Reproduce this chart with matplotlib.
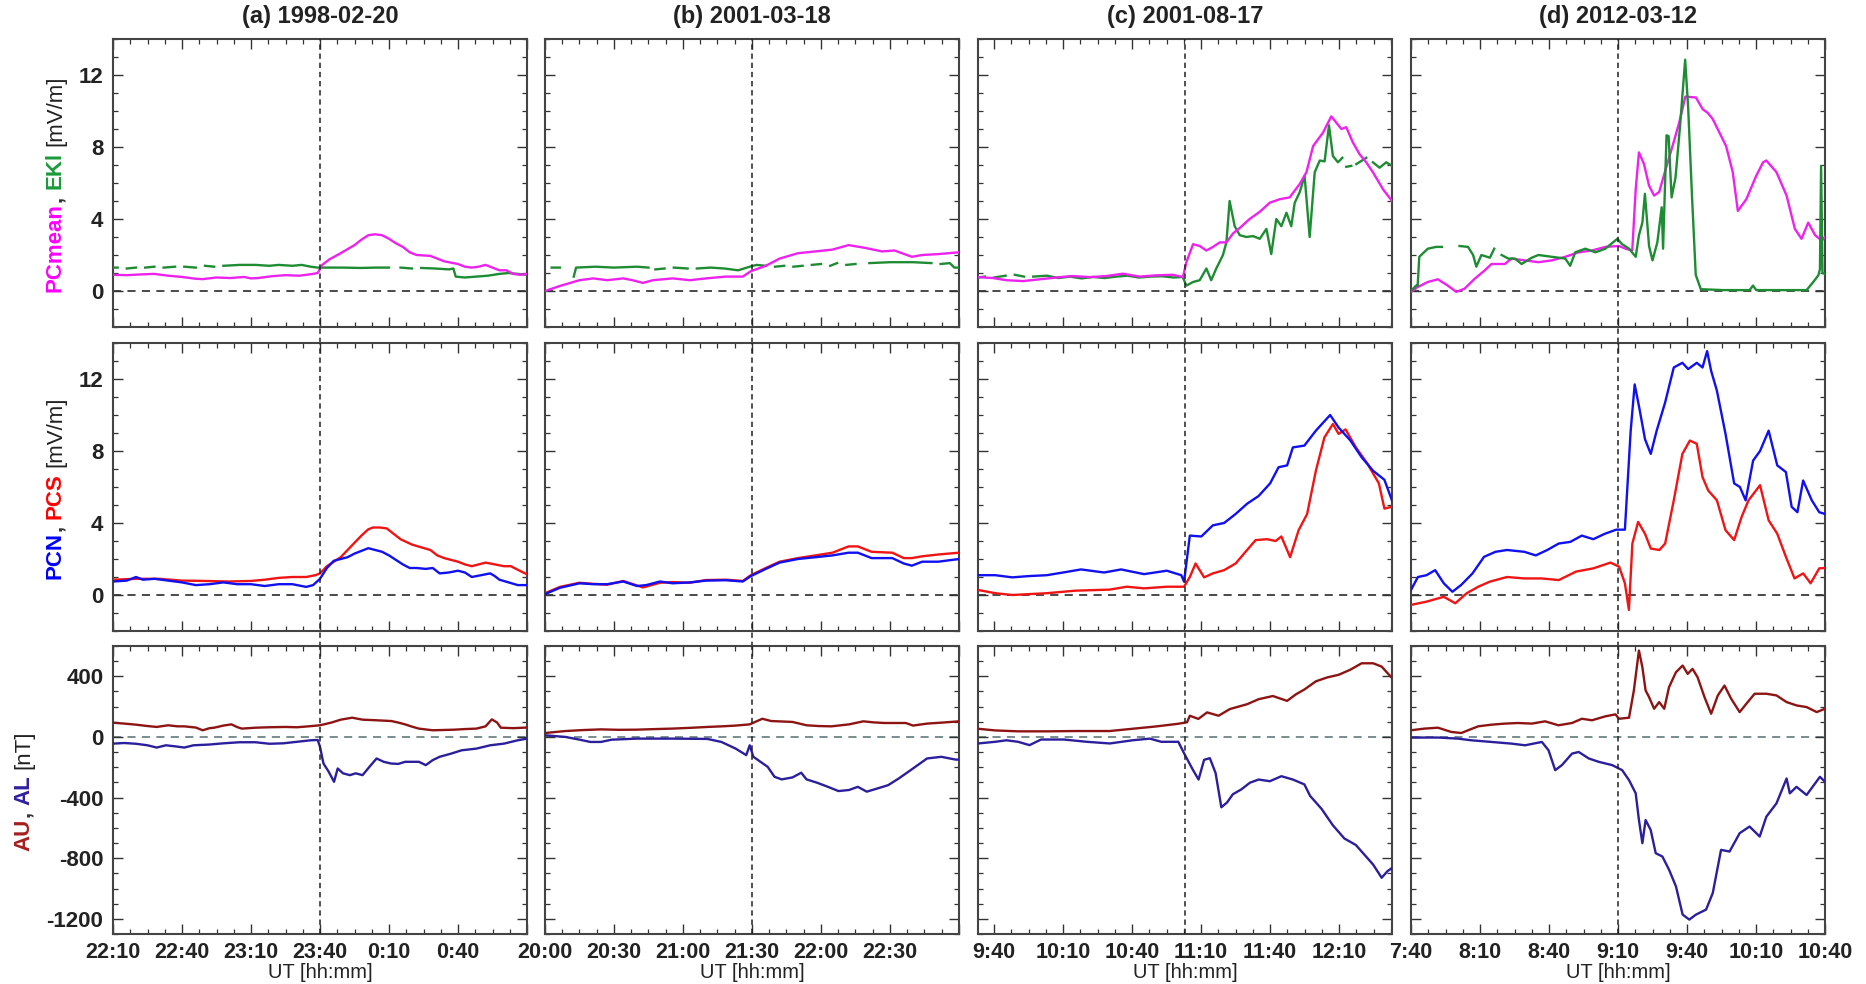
import numpy as np
import matplotlib
matplotlib.use("Agg")
import matplotlib.pyplot as plt
from matplotlib.ticker import FixedLocator, FixedFormatter, NullFormatter

plt.rcParams['font.family'] = ['Liberation Sans', 'DejaVu Sans']
plt.rcParams['font.weight'] = 'bold'

nan = np.nan

# ---------------- data (time in minutes from window start, value) ----------------
titles = ['(a) 1998-02-20', '(b) 2001-03-18', '(c) 2001-08-17', '(d) 2012-03-12']
window_start = [1330, 1200, 573, 460]          # minutes of day (22:10, 20:00, 9:33, 7:40)
onset_time = [1420, 1290, 663, 550]            # 23:40, 21:30, 11:03, 9:10
first_major = [1330, 1200, 580, 460]
xtick_labels = [
    ['22:10', '22:40', '23:10', '23:40', '0:10', '0:40', ''],
    ['20:00', '20:30', '21:00', '21:30', '22:00', '22:30', ''],
    ['9:40', '10:10', '10:40', '11:10', '11:40', '12:10'],
    ['7:40', '8:10', '8:40', '9:10', '9:40', '10:10', '10:40'],
]

a_pcm = [(0,.9),(6,.88),(12,.92),(18,.95),(24,.85),(30,.78),(36,.68),(39,.66),(45,.75),(51,.72),(57,.78),(60,.7),(63,.72),(69,.82),(75,.88),(81,.85),(87,.95),(89,1.0),(91,1.45),(94,1.75),(99,2.1),(105,2.55),(108,2.85),(111,3.1),(114,3.15),(117,3.1),(120,2.9),(123,2.65),(126,2.45),(129,2.15),(132,2.0),(138,1.95),(141,1.8),(144,1.65),(150,1.5),(153,1.35),(156,1.3),(159,1.35),(162,1.45),(165,1.3),(168,1.15),(171,1.15),(174,.95),(177,.9),(180,.95)]
a_ekl = [(0,1.3),(2,1.3),(4,nan),(6,1.25),(10,1.3),(12,nan),(14,1.3),(18,1.35),(20,nan),(22,1.3),(27,1.35),(29,nan),(31,1.35),(36,1.3),(38,nan),(40,1.4),(44,1.35),(46,nan),(48,1.4),(55,1.45),(62,1.45),(68,1.4),(72,1.45),(78,1.4),(82,1.45),(86,1.35),(89,1.3),(92,1.3),(100,1.3),(108,1.28),(114,1.3),(120,1.3),(123,nan),(125,1.3),(130,1.25),(132,nan),(134,1.28),(140,1.25),(146,1.2),(148,1.25),(149,.8),(153,.75),(158,.8),(163,.85),(168,.95),(172,1.0),(176,.95),(180,.9)]
a_pcs = [(0,.85),(10,.9),(20,.9),(30,.8),(40,.78),(50,.75),(60,.78),(66,.85),(72,.95),(78,1.0),(84,1.0),(88,1.1),(90,1.2),(93,1.6),(96,1.85),(99,2.1),(102,2.5),(105,2.9),(108,3.3),(111,3.65),(113,3.75),(116,3.75),(119,3.7),(122,3.4),(125,3.1),(130,2.8),(134,2.65),(138,2.5),(141,2.2),(144,2.05),(147,1.95),(150,1.85),(153,1.7),(156,1.6),(159,1.7),(162,1.8),(166,1.7),(170,1.6),(173,1.6),(176,1.4),(180,1.15)]
a_pcn = [(0,.75),(6,.8),(10,1.0),(13,.85),(18,.9),(24,.8),(30,.7),(36,.55),(42,.6),(48,.7),(54,.6),(60,.6),(66,.5),(69,.55),(72,.6),(78,.6),(84,.45),(87,.55),(90,.9),(93,1.5),(96,1.9),(99,2.0),(102,2.1),(105,2.3),(108,2.45),(111,2.6),(114,2.5),(117,2.4),(120,2.2),(123,1.95),(126,1.7),(129,1.5),(132,1.5),(136,1.45),(139,1.5),(142,1.2),(146,1.25),(150,1.35),(153,1.25),(156,1.0),(160,1.1),(164,1.2),(166,1.05),(168,.85),(172,.7),(176,.55),(180,.55)]
a_au = [(0,94),(5,88),(10,81),(15,72),(19,66),(24,77),(28,70),(31,70),(36,62),(39,44),(42,58),(44,61),(48,75),(51.5,83),(54,65),(56,55),(62,61),(68,64),(75,66),(80,64),(85,70),(90,77),(95,95),(99,114),(104,127),(108.5,114),(114.6,110),(121,105),(124,95),(127,83),(130,68),(133,55),(139,44),(144,46),(148.5,48),(153,52),(158,55),(162,70),(164.7,116),(167,95),(168.6,61),(174,58),(180,62)]
a_al = [(0,-44),(5,-40),(10,-45),(15,-55),(19,-70),(23,-55),(27,-62),(31,-70),(35,-55),(42,-50),(48,-42),(55,-35),(62,-35),(68,-45),(74,-42),(80,-32),(86,-22),(89,-20),(90,-65),(91.5,-175),(93.8,-230),(96.1,-296),(97.7,-208),(100,-240),(103,-252),(105.5,-240),(108.5,-252),(111.5,-197),(114.6,-142),(117.7,-164),(120.8,-175),(124,-178),(127,-164),(133,-164),(136,-186),(139,-153),(142,-131),(147,-110),(151.6,-88),(158,-77),(164,-55),(170,-44),(176,-22),(180,-11)]

b_pcm = [(0,0.0),(6.5,.28),(15,.6),(21,.7),(27,.6),(34,.7),(38,.6),(42.6,.45),(47,.6),(55.5,.7),(63,.6),(70,.7),(78.6,.8),(86,.8),(89.5,1.1),(96,1.4),(102,1.8),(110,2.1),(117.6,2.2),(125,2.3),(132,2.55),(139,2.4),(146.5,2.2),(152,2.25),(159.5,1.9),(164,2.0),(171,2.05),(180,2.15)]
b_ekl = [(2.9,1.3),(6.5,1.3),(8,nan),(12.5,.8),(13.5,1.3),(22,1.35),(30,1.3),(40,1.35),(45,1.3),(47,nan),(48,1.2),(52,1.25),(54,nan),(56,1.3),(62,1.25),(64,nan),(66,1.25),(72,1.3),(78,1.25),(84,1.15),(89,1.35),(92,1.45),(96,1.4),(98,nan),(100,1.35),(104,1.4),(106,nan),(108,1.35),(112,1.4),(114,nan),(116,1.45),(120,1.5),(122,nan),(124,1.4),(127,1.55),(129,nan),(131,1.45),(135,1.5),(137,nan),(141,1.55),(150,1.6),(160,1.6),(168,1.55),(170,nan),(172,1.5),(176,1.55),(178,1.3),(180,1.3)]
b_pcs = [(0,.1),(6.5,.45),(15,.68),(21,.62),(27,.57),(34,.78),(42.6,.42),(50,.68),(55.5,.72),(63,.68),(70,.83),(78.6,.85),(86,.78),(89.5,1.1),(96,1.5),(102,1.85),(110,2.05),(117.6,2.2),(125,2.35),(132,2.7),(136,2.7),(142,2.4),(151,2.35),(156,2.05),(159.5,2.05),(164,2.15),(171,2.25),(180,2.35)]
b_pcn = [(0,.05),(6.5,.4),(15,.65),(21,.6),(27,.6),(34,.75),(40,.5),(44,.55),(50,.75),(55.5,.65),(63,.7),(70,.8),(78.6,.82),(86,.75),(89.5,1.05),(96,1.45),(102,1.8),(110,2.0),(117.6,2.1),(125,2.2),(132,2.35),(136,2.35),(142,2.05),(151,2.05),(156,1.75),(159.5,1.63),(164,1.85),(171,1.85),(180,2.0)]
b_au = [(0,26),(8.9,39),(16,45),(24.3,50),(32,47),(39.8,48),(48,52),(55.2,55),(63,60),(70.6,66),(77,70),(82.9,75),(89,83),(94.5,120),(98.3,105),(103,102),(107.6,99),(113.7,77),(119,72),(124.5,70),(132.2,83),(138.4,103),(143,96),(147.6,92),(156.9,92),(160,75),(166.1,88),(173,95),(180,103)]
b_al = [(0,11),(8.9,0),(15.1,-18),(19.7,-33),(24.3,-33),(29,-18),(39.8,-11),(55.2,-11),(70.6,-13),(76.7,-33),(82.9,-77),(87.5,-120),(89,-55),(90.6,-131),(93.7,-164),(96.8,-197),(99.8,-263),(102.9,-280),(107.6,-267),(111.4,-236),(113.7,-280),(118.3,-302),(123,-329),(127.6,-357),(132.2,-350),(136,-329),(139.9,-361),(144.5,-340),(149.2,-318),(153.8,-274),(160,-208),(166.1,-142),(172.3,-131),(178.4,-149),(180,-150)]

c_pcm = [(0,.77),(6.5,.72),(12.3,.6),(19.6,.55),(26.8,.65),(35.5,.77),(41.3,.83),(48.6,.77),(55.8,.83),(63,.96),(70.3,.8),(77.5,.87),(84.8,.9),(89.1,.77),(90.6,1.6),(93.5,2.6),(96.4,2.5),(99.3,2.25),(102.2,2.45),(105.1,2.7),(108,2.7),(110.9,3.2),(113.8,3.5),(118.1,4.0),(122.5,4.4),(126.8,4.9),(131.2,5.1),(135.5,5.2),(139.9,5.95),(142.8,6.6),(145.7,8.05),(150,8.8),(153.6,9.7),(155.8,9.35),(158,9.0),(160.1,9.1),(163,8.25),(165.9,7.6),(168.8,7.15),(171.7,6.6),(176.1,5.65),(180,5.0)]
c_ekl = [(0,.75),(3,.8),(5,nan),(7,.75),(12,.85),(14,nan),(16,.9),(20,.8),(22,nan),(24,.8),(30,.85),(35,.72),(40,.8),(45,.7),(50,.78),(55,.72),(60,.8),(65,.85),(70,.75),(75,.8),(80,.82),(85,.75),(89,.78),(90.6,.3),(93.5,.5),(96.4,.6),(99.3,1.25),(101.4,.6),(103.6,1.25),(106.5,2.0),(108,2.7),(109.4,5.0),(111.6,3.6),(113.8,3.1),(116.7,3.0),(119.6,3.05),(122.5,2.9),(125.4,3.45),(127.5,2.05),(129.7,4.0),(131.9,3.6),(134.1,4.35),(136.2,3.6),(137.7,4.9),(139.9,5.5),(142,6.4),(144.2,3.0),(146.4,6.6),(148.6,7.25),(150.7,7.2),(152.6,9.2),(154.3,7.5),(156.5,7.15),(158.4,7.4),(159.5,nan),(160.1,6.9),(162.3,6.95),(163.5,nan),(164.5,7.05),(168.8,7.4),(170,nan),(171.7,7.15),(174.6,6.85),(177.5,7.15),(180,6.95)]
c_pcn = [(0,1.1),(7.5,1.1),(14.9,.98),(22,1.05),(29.9,1.1),(37,1.25),(44.8,1.42),(54.8,1.25),(62.2,1.42),(72.2,1.16),(82.1,1.35),(88.4,1.1),(89.6,.74),(92.1,3.3),(97.1,3.25),(102.1,3.87),(107,4.0),(112,4.5),(117,5.07),(122,5.5),(127,6.2),(130.7,7.1),(134.4,7.2),(136.9,8.2),(141.9,8.3),(146.9,9.13),(153.1,10.0),(156.8,9.3),(161.8,8.6),(166.8,7.65),(171.8,6.9),(176.7,6.4),(180,5.25)]
c_pcs = [(0,.28),(7.5,.1),(14.9,0.0),(29.9,.1),(42.3,.24),(57.3,.3),(64.7,.46),(72.2,.37),(82.1,.46),(89.6,.46),(92.1,1.0),(94.6,1.75),(98.3,.98),(102.1,1.2),(107,1.38),(112,1.75),(117,2.5),(120.7,3.05),(125.7,3.1),(129.4,3.0),(131.9,3.25),(135.7,2.1),(139.4,3.6),(143.1,4.5),(146.9,6.9),(150.6,8.75),(154.3,9.5),(156.8,8.95),(159.8,9.2),(164.3,8.2),(169.3,7.3),(174.3,6.2),(176.7,4.8),(180,4.9)]
c_au = [(0,54),(7.5,43),(17.4,37),(29.9,37),(42.3,39),(57.3,39),(67.2,54),(77.2,69),(87.1,87),(90.9,97),(92.1,140),(95.8,119),(99.6,162),(104.6,140),(109.5,184),(117,216),(122,249),(128.2,270),(134.4,238),(138.2,281),(141.9,313),(146.9,367),(151.9,393),(156.8,410),(161.8,443),(166.8,486),(171.8,486),(175.5,464),(180,389)]
c_al = [(0,-43),(7.5,-32),(12.4,-22),(17.4,-32),(22.4,-54),(27.4,-17),(37.3,-17),(47.3,-32),(57.3,-43),(67.2,-22),(74.7,-11),(79.7,-32),(87.1,-32),(89.6,-108),(93.4,-216),(95.9,-281),(98.3,-151),(100.8,-140),(103.3,-238),(105.8,-464),(108.3,-432),(110.8,-378),(114.5,-346),(118.2,-302),(122,-281),(126.9,-292),(131.9,-259),(136.9,-281),(141.9,-313),(144.4,-389),(149.4,-475),(154.3,-583),(159.3,-670),(164.3,-713),(169.3,-799),(171.8,-842),(175.5,-929),(178,-886),(180,-864)]

d_pcm = [(0,-.05),(2.9,.22),(7.3,.5),(11.7,.65),(16,.3),(19.7,-.05),(23.3,.13),(27.7,.68),(32.1,1.15),(35,1.5),(40.8,1.5),(43.7,1.8),(49.6,1.7),(55.4,1.6),(61.2,1.7),(67.1,1.9),(72.9,2.15),(78.7,2.25),(84.5,2.45),(90.4,2.5),(93.3,2.35),(96.2,2.25),(97.7,5.65),(99.1,7.7),(101.3,7.05),(103.5,5.85),(105.7,5.3),(107.9,5.5),(110.8,6.8),(113.7,8.05),(116.6,9.35),(119.3,10.8),(123.9,10.75),(126.8,10.1),(129,9.9),(131.2,9.55),(134.1,8.8),(137,8.05),(139.9,6.6),(142.1,4.45),(145.8,5.1),(150.1,6.4),(153.1,7.15),(154.5,7.25),(158.9,6.6),(163.3,5.3),(166.9,3.45),(169.8,2.9),(172.7,3.8),(175.7,3.1),(178.6,2.8),(180,3.0)]
d_ekl = [(0,0.0),(2.2,.3),(2.9,.3),(3.6,1.9),(7.3,2.35),(10.9,2.45),(13.4,2.45),(14.5,nan),(21.1,2.5),(24.8,2.45),(27,2.0),(28.4,1.35),(30.6,2.0),(34.3,1.85),(36.2,2.35),(37.5,nan),(39.4,2.0),(42.3,1.8),(45.2,1.8),(48.1,1.5),(52.5,1.85),(55.4,2.0),(61.2,1.9),(67.1,1.8),(69.2,1.4),(71.4,2.15),(75.8,2.35),(80.2,2.15),(84.5,2.35),(89.7,2.9),(91.8,2.6),(94.8,2.35),(97.7,1.9),(99.1,3.1),(100.6,3.8),(101.7,5.4),(103.5,2.5),(105,1.7),(107.1,2.7),(109,4.65),(109.6,2.35),(111.1,8.65),(112,8.6),(113.3,5.2),(115,6.3),(117,9.2),(119.2,12.85),(120.5,10.2),(122.2,5.2),(123.8,.9),(126,.1),(135.6,.05),(147.2,.05),(148.7,.3),(150.1,.05),(164.7,.05),(172,.05),(174.9,.5),(177.1,.87),(177.8,1.2),(178.3,6.95),(178.9,1.0),(180,.95)]
d_pcn = [(0,.28),(3,1.0),(6.75,1.1),(10.5,1.38),(14.25,.65),(18,.18),(21.75,.55),(26.75,1.2),(31.75,2.12),(36.75,2.4),(41.75,2.5),(49.25,2.4),(54.25,2.2),(59.25,2.5),(64.25,2.86),(69.25,2.95),(74.25,3.3),(79.25,3.1),(84.25,3.4),(89.25,3.63),(93,3.63),(95.5,9.1),(97.25,11.7),(99.25,10.4),(101.75,8.65),(104.25,7.84),(106.75,9.1),(110.5,10.7),(114.25,12.64),(118,12.9),(120.5,12.55),(124.25,12.9),(126.75,12.64),(128.75,13.55),(130.5,12.45),(133,11.35),(136.75,8.95),(140.5,6.2),(143,6.0),(145.5,5.26),(148.75,7.47),(151.75,8.0),(155.5,9.13),(159.25,7.2),(163,6.83),(165.5,4.9),(168,4.6),(170.5,6.36),(174.25,5.26),(177.5,4.6),(180,4.5)]
d_pcs = [(0,-.55),(6.75,-.37),(14.25,-.1),(19.25,-.46),(24.25,.1),(29.25,.46),(34.25,.74),(41.75,1.0),(49.25,.92),(56.75,.92),(64.25,.83),(71.75,1.3),(79.25,1.48),(86.75,1.8),(90.5,1.57),(93,.65),(94.75,-.83),(96.25,2.86),(98.75,4.06),(101.75,3.4),(104.25,2.58),(108,2.5),(110.5,2.86),(114.25,5.26),(118,7.84),(121.25,8.58),(124.25,8.4),(126.75,6.55),(129.25,5.8),(133,5.26),(136.75,3.6),(140.5,3.05),(143.75,4.34),(146.75,5.26),(151.75,6.1),(155.5,4.15),(159.25,3.4),(163,2.12),(166.75,.92),(170.5,1.2),(173.75,.65),(177.5,1.48),(180,1.5)]
d_au = [(0,44),(5.8,55),(11.7,61),(17.5,33),(21.9,26),(24.8,44),(29.2,70),(35,81),(40.8,88),(46.6,92),(52.5,88),(58.3,103),(64.1,77),(70,92),(74.3,120),(78.7,110),(84.5,136),(88.9,149),(90.4,120),(94.8,127),(96.9,307),(99.1,570),(100.6,460),(102,307),(103.5,263),(105.7,186),(107.9,230),(110.1,186),(112.2,329),(115.2,427),(118.1,471),(120.3,416),(122.4,449),(124.6,394),(127.6,263),(130.5,153),(133.4,274),(136.3,339),(139.2,252),(142.9,164),(145.8,219),(149.4,285),(154.5,285),(158.9,274),(163.3,230),(167.6,208),(172,197),(176.4,164),(180,186)]
d_al = [(0,-4),(11.7,-4),(20.4,-11),(26.2,-22),(35,-33),(43.7,-44),(49.6,-55),(56.9,-33),(59.8,-88),(62.7,-219),(65.6,-186),(70,-110),(72.9,-99),(77.3,-142),(81.6,-164),(87.5,-186),(91.8,-219),(94.8,-285),(97.7,-372),(99.1,-548),(100.6,-701),(102,-548),(104.2,-613),(106.4,-767),(109.3,-789),(112.2,-876),(115.2,-986),(118.1,-1172),(121,-1205),(123.9,-1172),(128.3,-1139),(131.2,-1030),(134.8,-745),(138.5,-756),(142.9,-635),(147.2,-591),(151.6,-657),(154.5,-526),(158.9,-438),(163.3,-274),(164.7,-372),(167.6,-329),(172,-383),(177.8,-263),(180,-296)]

# ---------------- styles ----------------
C_PCM = '#ee22ee'
C_EKL = '#1e8c32'
C_PCN = '#1010f0'
C_PCS = '#f01414'
C_AU = '#8e1414'
C_AL = '#2c1f9c'

panel_series = {
    0: [[(a_ekl, C_EKL), (a_pcm, C_PCM)], [(a_pcs, C_PCS), (a_pcn, C_PCN)], [(a_au, C_AU), (a_al, C_AL)]],
    1: [[(b_ekl, C_EKL), (b_pcm, C_PCM)], [(b_pcs, C_PCS), (b_pcn, C_PCN)], [(b_au, C_AU), (b_al, C_AL)]],
    2: [[(c_ekl, C_EKL), (c_pcm, C_PCM)], [(c_pcs, C_PCS), (c_pcn, C_PCN)], [(c_au, C_AU), (c_al, C_AL)]],
    3: [[(d_pcm, C_PCM), (d_ekl, C_EKL)], [(d_pcs, C_PCS), (d_pcn, C_PCN)], [(d_au, C_AU), (d_al, C_AL)]],
}

W, H = 1866, 984
fig = plt.figure(figsize=(W / 100, H / 100), dpi=100)
col_left = [113, 545, 978, 1411]
col_w = 414
row_top = [39, 343, 646]
row_h = 288

ylims = [(-2, 14), (-2, 14), (-1300, 600)]
ymaj = [[0, 4, 8, 12], [0, 4, 8, 12], [-1200, -800, -400, 0, 400]]
ymin_step = [1, 1, 100]

for ci in range(4):
    ws = window_start[ci]
    we = ws + 180
    maj = [first_major[ci] + 30 * k for k in range(len(xtick_labels[ci]))]
    minors = [m for m in np.arange(first_major[ci] - 30, we + 0.01, 7.5) if ws - 0.01 <= m <= we + 0.01]
    for ri in range(3):
        ax = fig.add_axes([col_left[ci] / W, 1 - (row_top[ri] + row_h) / H, col_w / W, row_h / H])
        ax.set_xlim(ws, we)
        ax.set_ylim(*ylims[ri])
        zc = '#3c3c3c' if ri < 2 else '#708585'
        ax.axhline(0, color=zc, ls=(0, (4.5, 3.5)), lw=1.3, zorder=1)
        for series, col in panel_series[ci][ri]:
            t = np.array([p[0] for p in series], dtype=float) + ws
            v = np.array([p[1] for p in series], dtype=float)
            ax.plot(t, v, color=col, lw=1.7, zorder=3, solid_joinstyle='round')
        ext = -0.056 if ri < 2 else 0.0
        ax.axvline(onset_time[ci], ymin=ext, ymax=1, color='#222222', ls=(0, (3.5, 2.5)),
                   lw=1.1, clip_on=False, zorder=4)
        ax.xaxis.set_major_locator(FixedLocator(maj))
        ax.xaxis.set_minor_locator(FixedLocator(minors))
        if ri == 2:
            ax.xaxis.set_major_formatter(FixedFormatter(xtick_labels[ci]))
        else:
            ax.xaxis.set_major_formatter(NullFormatter())
        ym = ymaj[ri]
        ax.yaxis.set_major_locator(FixedLocator(ym))
        ax.yaxis.set_minor_locator(FixedLocator(list(np.arange(ylims[ri][0], ylims[ri][1] + 0.01, ymin_step[ri]))))
        if ci == 0:
            ax.yaxis.set_major_formatter(FixedFormatter([str(v) for v in ym]))
        else:
            ax.yaxis.set_major_formatter(NullFormatter())
        ax.tick_params(which='both', direction='in', top=True, right=True, colors='#333333',
                       labelcolor='#222222')
        ax.tick_params(axis='x', labelsize=15.5)
        ax.tick_params(axis='y', labelsize=16)
        ax.tick_params(which='major', length=7, width=1.0)
        ax.tick_params(axis='x', which='major', pad=6)
        ax.tick_params(axis='y', which='major', pad=7)
        ax.tick_params(which='minor', length=3.5, width=0.9)
        for lab in ax.get_xticklabels() + ax.get_yticklabels():
            lab.set_fontweight('bold')
        for s in ax.spines.values():
            s.set_color('#444444')
            s.set_linewidth(1.5)
        if ri == 2:
            ax.set_xlabel('UT [hh:mm]', fontsize=14.5, fontweight='normal', labelpad=0, color='#222222')
    cx = (col_left[ci] + col_w / 2) / W
    fig.text(cx, 1 - 16 / H, titles[ci], ha='center', va='center', fontsize=17,
             fontweight='bold', color='#222222')

# ---------------- multi-coloured y labels ----------------
renderer = fig.canvas.get_renderer()
FS_LAB = 16


def seg_len(s, w):
    t = fig.text(0, 0, s, fontsize=FS_LAB, fontweight=w)
    L = t.get_window_extent(renderer).width
    t.remove()
    return L


def color_label(pieces, x_px, yc_px):
    space = 0.28 * FS_LAB * 100 / 72
    lens = []
    for s, c, w, gap in pieces:
        lens.append(seg_len(s, w) + (space if gap else 1.5))
    total = sum(lens)
    y = yc_px - total / 2
    for (s, c, w, gap), L in zip(pieces, lens):
        fig.text(x_px / W, y / H, s, color=c, fontsize=FS_LAB, fontweight=w, rotation=90,
                 rotation_mode='anchor', ha='left', va='baseline')
        y += L


label_pieces = [
    [('PCmean', '#ff00ff', 'bold', False), (',', '#333333', 'bold', True),
     ('EKl', '#1a9a3a', 'bold', True), ('[mV/m]', '#222222', 'normal', False)],
    [('PCN', '#0000ff', 'bold', False), (',', '#333333', 'bold', True),
     ('PCS', '#ff0000', 'bold', True), ('[mV/m]', '#222222', 'normal', False)],
    [('AU', '#a52020', 'bold', False), (',', '#333333', 'bold', True),
     ('AL', '#3020a0', 'bold', True), ('[nT]', '#222222', 'normal', False)],
]
label_x = [61, 61, 29]
for ri in range(3):
    yc = H - (row_top[ri] + row_h / 2)
    color_label(label_pieces[ri], label_x[ri], yc)

fig.savefig('out.png', dpi=100)
